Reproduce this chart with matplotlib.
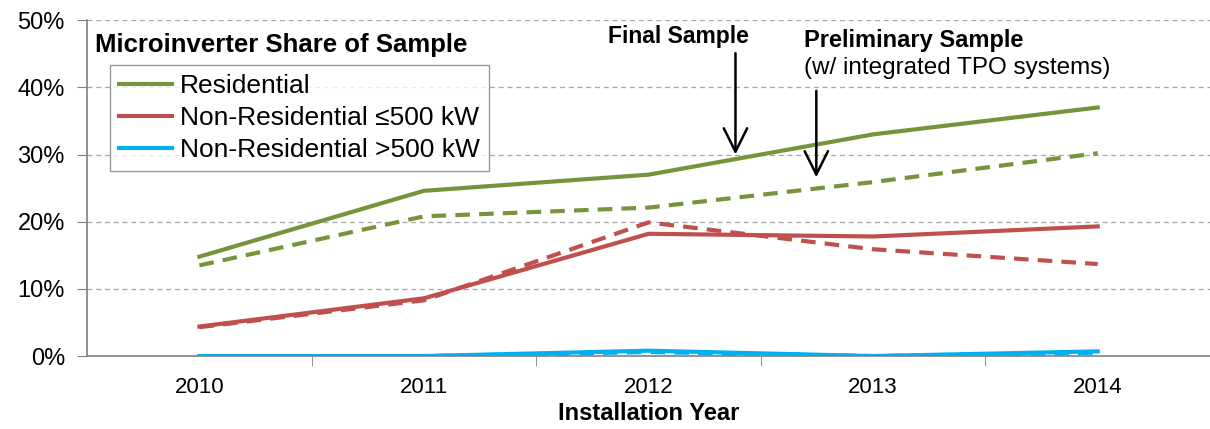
import matplotlib.pyplot as plt
from matplotlib.ticker import FuncFormatter, FixedLocator

plt.rcParams['font.family'] = ['Liberation Sans', 'DejaVu Sans']

years = ['2010', '2011', '2012', '2013', '2014']
res_final = [14.8, 24.6, 27.0, 33.0, 37.0]
res_prelim = [13.5, 20.8, 22.1, 25.9, 30.2]
nonres_small_final = [4.4, 8.6, 18.2, 17.8, 19.3]
nonres_small_prelim = [4.3, 8.3, 19.9, 15.9, 13.7]
nonres_large_final = [0.0, 0.0, 0.8, 0.0, 0.7]
nonres_large_prelim = [0.0, 0.0, 0.6, 0.0, 0.5]

green = '#77933C'
red = '#C0504D'
blue = '#00B0F0'

fig = plt.figure(figsize=(12.1, 4.29), dpi=100)
ax = fig.add_axes([0.072, 0.17, 0.928, 0.783])

x = list(range(len(years)))
dash = (0, (3.5, 2.2))
ax.plot(x, res_prelim, color=green, lw=3, ls=dash)
ax.plot(x, nonres_small_prelim, color=red, lw=3, ls=dash)
ax.plot(x, nonres_large_prelim, color=blue, lw=3, ls=dash)
ax.plot(x, res_final, color=green, lw=3, label='Residential')
ax.plot(x, nonres_small_final, color=red, lw=3, label='Non-Residential \u2264500 kW')
ax.plot(x, nonres_large_final, color=blue, lw=3, label='Non-Residential >500 kW')

ax.set_xlim(-0.5, 4.5)
ax.set_ylim(0, 50)
ax.set_yticks(range(0, 51, 10))
ax.yaxis.set_major_formatter(FuncFormatter(lambda v, p: f'{int(v)}%'))
ax.set_xticks(x)
ax.set_xticklabels(years)
ax.xaxis.set_minor_locator(FixedLocator([0.5, 1.5, 2.5, 3.5]))
ax.tick_params(axis='x', which='major', length=0, labelsize=16, pad=15)
ax.tick_params(axis='x', which='minor', length=7, color='#808080')
ax.tick_params(axis='y', length=7, color='#808080', labelsize=17, pad=9)
ax.grid(axis='y', color='#A6A6A6', ls=(0, (4, 3)), lw=0.9)
ax.set_axisbelow(True)
for s in ['top', 'right']:
    ax.spines[s].set_visible(False)
for s in ['left', 'bottom']:
    ax.spines[s].set_color('#808080')
    ax.spines[s].set_linewidth(1.2)

ax.set_xlabel('Installation Year', fontsize=17, fontweight='bold', labelpad=3)

ax.text(0.007, 0.926, 'Microinverter Share of Sample', transform=ax.transAxes,
        fontsize=18.5, fontweight='bold', va='center')
leg = ax.legend(loc='upper left', bbox_to_anchor=(0.0205, 0.866), fontsize=19,
                frameon=True, fancybox=False, edgecolor='#808080',
                handlelength=2.0, handletextpad=0.3, borderpad=0.35,
                labelspacing=0.3, borderaxespad=0)
leg.get_frame().set_linewidth(1.0)

arrow = dict(arrowstyle='->, head_length=0.6, head_width=0.3', color='black',
             lw=1.8, mutation_scale=28)
ax.text(2.133, 47.5, 'Final Sample', fontsize=16.5, fontweight='bold',
        ha='center', va='center')
ax.annotate('', xy=(2.387, 29.6), xytext=(2.387, 45.5), arrowprops=arrow)
ax.text(2.693, 47.0, 'Preliminary Sample', fontsize=17, fontweight='bold',
        ha='left', va='center')
ax.text(2.693, 42.9, '(w/ integrated TPO systems)', fontsize=17.5,
        ha='left', va='center')
ax.annotate('', xy=(2.747, 26.2), xytext=(2.747, 39.9), arrowprops=arrow)

fig.savefig('out.png', dpi=100)
